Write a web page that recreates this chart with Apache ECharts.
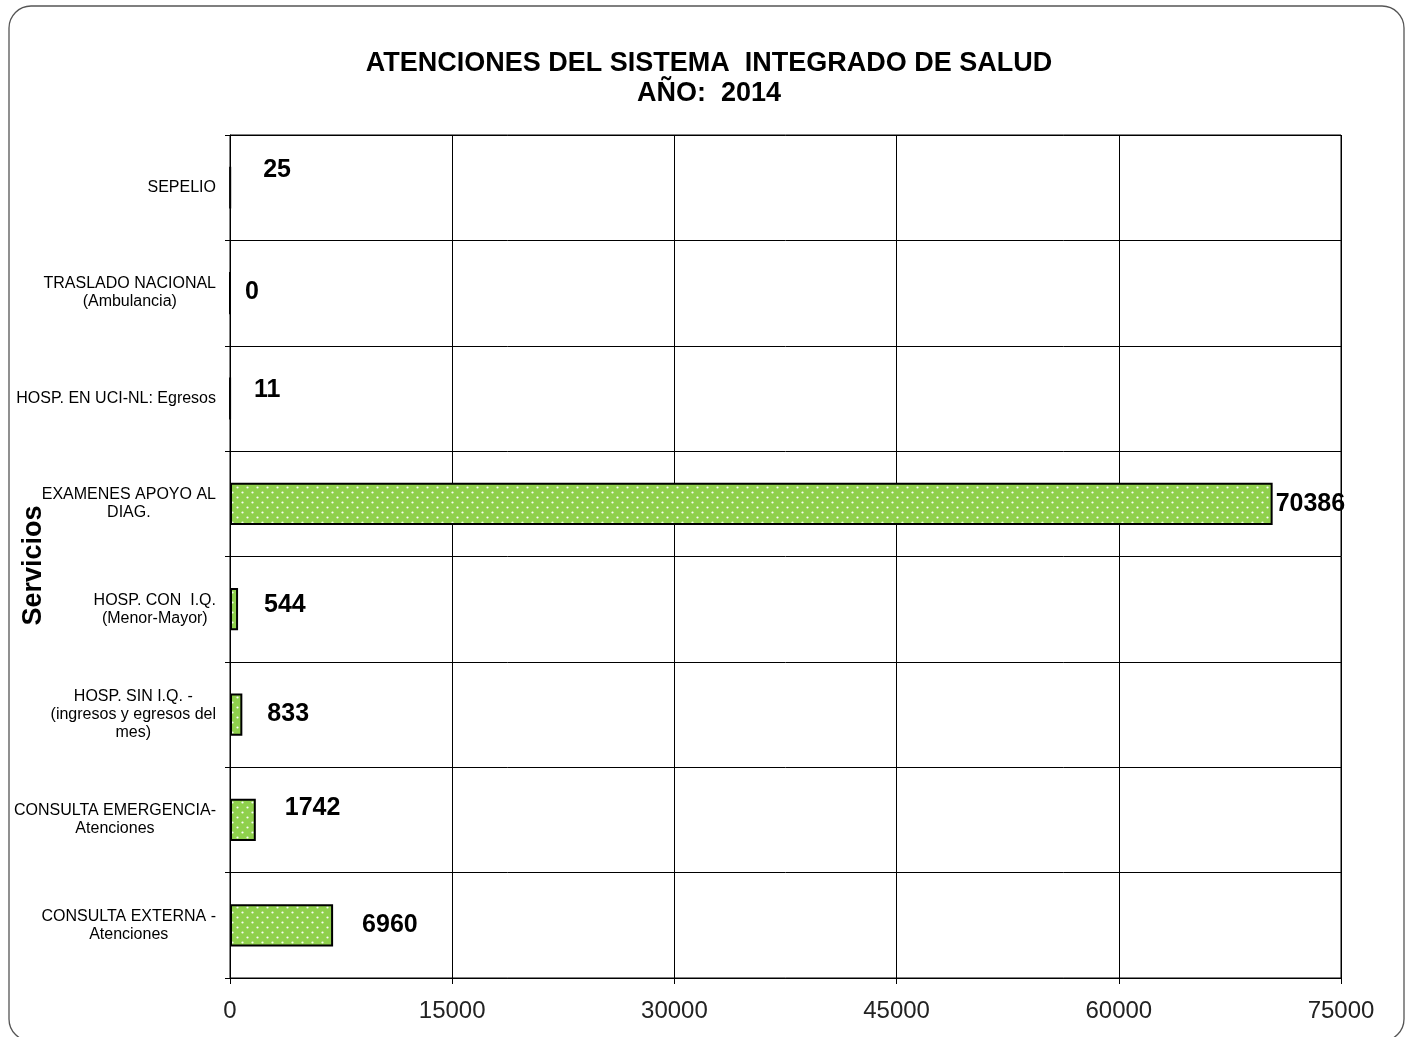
<!DOCTYPE html>
<html>
<head>
<meta charset="utf-8">
<title>Atenciones del Sistema Integrado de Salud 2014</title>
<script src="https://cdn.jsdelivr.net/npm/echarts@6/dist/echarts.min.js"></script>
<style>
  html, body { margin: 0; padding: 0; background: #fff; }
  #chart { width: 1408px; height: 1037px; }
</style>
</head>
<body>
<div id="chart"></div>
<script>
// categories from bottom to top, as in the picture
const categories = [
  'CONSULTA EXTERNA -\nAtenciones',
  'CONSULTA EMERGENCIA-\nAtenciones',
  'HOSP. SIN I.Q. -\n(ingresos y egresos del\nmes)',
  'HOSP. CON  I.Q.\n(Menor-Mayor)',
  'EXAMENES APOYO AL\nDIAG.',
  'HOSP. EN UCI-NL: Egresos',
  'TRASLADO NACIONAL\n(Ambulancia)',
  'SEPELIO'
];
const values = [6960, 1742, 833, 544, 70386, 11, 0, 25];
const xTicks = [0, 15000, 30000, 45000, 60000, 75000];

// where each value label sits next to its bar (distance, vertical shift)
const labelDistance = [29, 29, 25, 26, 3, 23, 14, 32];
const labelShift = [0, -12, 0, -4, 0, -8, -1, -18];

const FONT = '"Liberation Sans", Arial, sans-serif';

// green with white dots, like the spreadsheet fill
function dotPattern() {
  const c = document.createElement('canvas');
  c.width = 10; c.height = 10;
  const ctx = c.getContext('2d');
  ctx.fillStyle = '#8fd04c';
  ctx.fillRect(0, 0, 10, 10);
  ctx.fillStyle = 'rgba(255,255,255,0.95)';
  [[2.5, 2.5], [7.5, 7.5]].forEach(p => {
    ctx.beginPath();
    ctx.arc(p[0], p[1], 1.1, 0, Math.PI * 2);
    ctx.fill();
  });
  return c;
}

const chart = echarts.init(document.getElementById('chart'));
const pattern = dotPattern();

const option = {
  backgroundColor: '#fff',
  animation: false,
  title: {
    text: 'ATENCIONES DEL SISTEMA  INTEGRADO DE SALUD\nAÑO:  2014',
    left: '50%',
    textAlign: 'center',
    top: 44,
    textStyle: {
      fontFamily: FONT,
      fontWeight: 'bold',
      fontSize: 27,
      lineHeight: 30,
      color: '#000'
    }
  },
  graphic: [{
    type: 'rect',
    silent: true,
    shape: { x: 9, y: 6, width: 1395, height: 1035, r: 22 },
    style: { fill: 'none', stroke: '#555', lineWidth: 1.3 }
  }],
  grid: {
    left: 230,
    right: 67,
    top: 135,
    bottom: 59,
    outerBoundsMode: 'none',
    show: true,
    borderColor: '#000',
    borderWidth: 1
  },
  xAxis: {
    type: 'value',
    min: xTicks[0],
    max: xTicks[xTicks.length - 1],
    interval: xTicks[1] - xTicks[0],
    axisLine: { show: true, lineStyle: { color: '#000', width: 1 } },
    axisTick: { show: true, length: 6, lineStyle: { color: '#000' } },
    splitLine: { show: true, lineStyle: { color: '#000', width: 1 } },
    axisLabel: {
      margin: 21,
      fontFamily: FONT,
      fontSize: 24,
      color: '#222',
      formatter: v => String(v)
    }
  },
  yAxis: {
    type: 'category',
    data: categories,
    name: 'Servicios',
    nameLocation: 'middle',
    nameRotate: 90,
    nameGap: 183,
    nameMoveOverlap: false,
    nameTextStyle: {
      fontFamily: FONT,
      fontWeight: 'bold',
      fontSize: 27,
      color: '#000',
      padding: [0, 18, 0, 0]
    },
    axisLine: { show: true, lineStyle: { color: '#000', width: 1 } },
    axisTick: { show: true, length: 5, lineStyle: { color: '#000' } },
    splitLine: { show: true, lineStyle: { color: '#000', width: 1 } },
    axisLabel: {
      margin: 14,
      align: 'right',
      fontFamily: FONT,
      fontSize: 16,
      lineHeight: 18,
      color: '#000',
      formatter: v => v.split('\n').map(l => '{c|' + l + '}').join('\n'),
      rich: {
        c: {
          align: 'center',
          fontFamily: FONT,
          fontSize: 16,
          lineHeight: 18,
          color: '#000'
        }
      }
    }
  },
  series: [{
    type: 'bar',
    barWidth: '40%',
    itemStyle: {
      color: { image: pattern, repeat: 'repeat' },
      borderColor: '#000',
      borderWidth: 2
    },
    label: {
      show: true,
      position: 'right',
      fontFamily: FONT,
      fontWeight: 'bold',
      fontSize: 25,
      color: '#000'
    },
    data: values.map((v, i) => ({
      value: v,
      label: { distance: labelDistance[i], offset: [0, labelShift[i]] }
    }))
  }]
};

chart.setOption(option);
window.addEventListener('resize', () => chart.resize(), false);
</script>
</body>
</html>
